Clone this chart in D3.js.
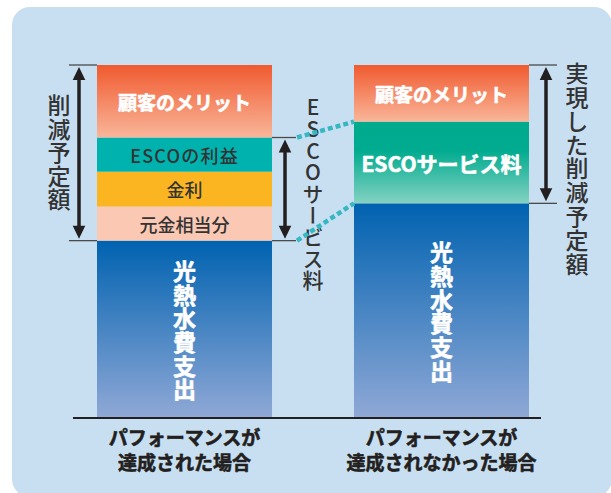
<!DOCTYPE html>
<html lang="ja">
<head>
<meta charset="utf-8">
<script src="https://cdn.jsdelivr.net/npm/d3@7"></script>
<style>
  html, body { margin: 0; padding: 0; background: #ffffff; }
  svg { display: block; }
  text { font-family: "Noto Sans CJK JP", "Noto Sans", sans-serif; }
  .vert { writing-mode: vertical-rl; text-orientation: upright; }
</style>
</head>
<body>
<svg id="chart" width="611" height="493"></svg>
<script>
// Two scenarios compared as stacked columns (share of the pre-ESCO utility cost = 100)
const categories = ["achieved", "notAchieved"];
const categoryLabels = [
  ["パフォーマンスが", "達成された場合"],
  ["パフォーマンスが", "達成されなかった場合"]
];

// Stack order: bottom to top
const achievedNames  = ["光熱水費支出", "元金相当分", "金利", "ESCOの利益", "顧客のメリット"];
const achievedValues = [50.1, 9.7, 9.9, 9.7, 20.6];

const missedNames  = ["光熱水費支出", "ESCOサービス料", "顧客のメリット"];
const missedValues = [60.7, 23.2, 16.1];

// Bracket annotations
const leftBracketLabel   = "削減予定額";
const middleBracketLabel = "ESCOサービス料";
const rightBracketLabel  = "実現した削減予定額";

const svg = d3.select("#chart");
const defs = svg.append("defs");

function linGrad(id, stops) {
  const g = defs.append("linearGradient").attr("id", id)
    .attr("x1", 0).attr("y1", 0).attr("x2", 0).attr("y2", 1);
  stops.forEach(([o, c]) => g.append("stop").attr("offset", o).attr("stop-color", c));
  return `url(#${id})`;
}

const fills = {
  "顧客のメリット": linGrad("gMerit", [[0, "#f05a2f"], [1, "#f9b69a"]]),
  "ESCOの利益": "#00b2ae",
  "金利": "#fab521",
  "元金相当分": "#fac8b3",
  "光熱水費支出": linGrad("gCost", [[0, "#0062b0"], [1, "#8fa8d6"]]),
  "ESCOサービス料": linGrad("gFee", [[0, "#00aa8d"], [0.35, "#00ab8f"], [1, "#84d2c2"]])
};
// heavy: extra outline in the text colour for a blacker weight
const styleOf = {
  "顧客のメリット": { color: "#ffffff", weight: 700, size: 19, spacing: 0, vertical: false, heavy: true },
  "ESCOの利益":    { color: "#333333", weight: 500, size: 18, spacing: 1.2, vertical: false, heavy: false },
  "金利":          { color: "#333333", weight: 500, size: 18, spacing: 0, vertical: false, heavy: false },
  "元金相当分":     { color: "#333333", weight: 500, size: 18, spacing: 0, vertical: false, heavy: false },
  "ESCOサービス料": { color: "#ffffff", weight: 700, size: 21, spacing: 0, vertical: false, heavy: true },
  "光熱水費支出":   { color: "#ffffff", weight: 700, size: 23, spacing: 0.7, vertical: true, heavy: true }
};

function embolden(t, color) {
  t.attr("stroke", color).attr("stroke-width", 0.6).attr("stroke-linejoin", "round");
}

// Panel background
svg.append("rect").attr("x", 12).attr("y", 7).attr("width", 600).attr("height", 490)
  .attr("rx", 18).attr("fill", "#c8dff2");

const x = d3.scaleBand().domain(categories).range([97, 529]).paddingInner(0.319);
const y = d3.scaleLinear().domain([0, 100]).range([417, 65]);
const bw = x.bandwidth();

function stackUp(names, values) {
  let acc = 0;
  return names.map((n, i) => {
    const d = { name: n, y0: acc, y1: acc + values[i] };
    acc += values[i];
    return d;
  });
}
const stacks = {
  achieved: stackUp(achievedNames, achievedValues),
  notAchieved: stackUp(missedNames, missedValues)
};

// Top-to-bottom text: one upright glyph per row, each in vertical writing mode
function verticalText(g, str, cx, top, size, pitch, weight, color) {
  const sel = g.append("g");
  Array.from(str).forEach((ch, i) => {
    sel.append("text")
      .attr("class", "vert")
      .attr("x", cx).attr("y", top + i * pitch)
      .attr("font-size", size).attr("font-weight", weight).attr("fill", color)
      .text(ch);
  });
  return sel;
}

categories.forEach(cat => {
  const g = svg.append("g");
  const x0 = x(cat);
  stacks[cat].forEach(seg => {
    g.append("rect")
      .attr("x", x0).attr("width", bw)
      .attr("y", y(seg.y1)).attr("height", y(seg.y0) - y(seg.y1))
      .attr("fill", fills[seg.name]);
  });
  stacks[cat].forEach(seg => {
    const st = styleOf[seg.name];
    const cx = x0 + bw / 2;
    const cy = (y(seg.y0) + y(seg.y1)) / 2;
    let t;
    if (st.vertical) {
      const pitch = st.size + st.spacing;
      const n = Array.from(seg.name).length;
      t = verticalText(g, seg.name, cx, cy - pitch * n / 2 + 2, st.size, pitch, st.weight, st.color);
      t.selectAll("text").each(function () { embolden(d3.select(this), st.color); });
    } else {
      t = g.append("text")
        .attr("x", cx).attr("y", cy)
        .attr("text-anchor", "middle").attr("dominant-baseline", "central")
        .attr("font-size", st.size).attr("font-weight", st.weight).attr("fill", st.color)
        .attr("letter-spacing", st.spacing)
        .text(seg.name);
      if (st.heavy) embolden(t, st.color);
    }
  });
});

// Baseline
svg.append("line")
  .attr("x1", x("achieved") - 24).attr("x2", x("notAchieved") + bw + 12)
  .attr("y1", y(0) + 1).attr("y2", y(0) + 1)
  .attr("stroke", "#231f20").attr("stroke-width", 2);

// Category captions
categories.forEach((cat, i) => {
  categoryLabels[i].forEach((line, j) => {
    const t = svg.append("text")
      .attr("x", x(cat) + bw / 2).attr("y", 436 + j * 25)
      .attr("text-anchor", "middle").attr("dominant-baseline", "central")
      .attr("font-size", 19).attr("font-weight", 700).attr("fill", "#231f20")
      .text(line);
    embolden(t, "#231f20");
  });
});

// Double-headed bracket arrow with end ticks
function bracket(tx0, tx1, ax, yTop, yBot) {
  const g = svg.append("g");
  [yTop, yBot].forEach(yy => g.append("line")
    .attr("x1", tx0).attr("x2", tx1).attr("y1", yy).attr("y2", yy)
    .attr("stroke", "#4a4a4a").attr("stroke-width", 1.3));
  const head = 13, half = 6.3;
  g.append("line").attr("x1", ax).attr("x2", ax)
    .attr("y1", yTop + head).attr("y2", yBot - head)
    .attr("stroke", "#231f20").attr("stroke-width", 3.5);
  g.append("path")
    .attr("d", `M${ax},${yTop + 2}L${ax - half},${yTop + 2 + head}L${ax + half},${yTop + 2 + head}Z`)
    .attr("fill", "#231f20");
  g.append("path")
    .attr("d", `M${ax},${yBot - 2}L${ax - half},${yBot - 2 - head}L${ax + half},${yBot - 2 - head}Z`)
    .attr("fill", "#231f20");
}

const sA = stacks.achieved, sN = stacks.notAchieved;
const xA = x("achieved"), xN = x("notAchieved");

// Planned savings (left of first column)
bracket(xA - 28, xA, xA - 18, y(sA[4].y1), y(sA[1].y0));
verticalText(svg, leftBracketLabel, xA - 38,
  (y(sA[4].y1) + y(sA[1].y0)) / 2 - 23.6 * 5 / 2, 23, 23.6, 500, "#333333");

// ESCO service fee (right of first column)
bracket(xA + bw, xA + bw + 24, xA + bw + 13, y(sA[3].y1), y(sA[1].y0));
verticalText(svg, middleBracketLabel, xA + bw + 41, 97, 21, 21.6, 500, "#333333");

// Realised savings (right of second column)
bracket(xN + bw, xN + bw + 28, xN + bw + 17, y(sN[2].y1), y(sN[1].y0));
verticalText(svg, rightBracketLabel, xN + bw + 48, 62, 23, 23.8, 500, "#333333");

// Dotted connectors from fee bracket to the fee segment of the second column
[[sA[3].y1, sN[1].y1], [sA[1].y0, sN[1].y0]].forEach(([a, b]) => {
  svg.append("line")
    .attr("x1", xA + bw + 25).attr("y1", y(a))
    .attr("x2", xN).attr("y2", y(b))
    .attr("stroke", "#35b8c2").attr("stroke-width", 4.5)
    .attr("stroke-dasharray", "5,3");
});
</script>
</body>
</html>
